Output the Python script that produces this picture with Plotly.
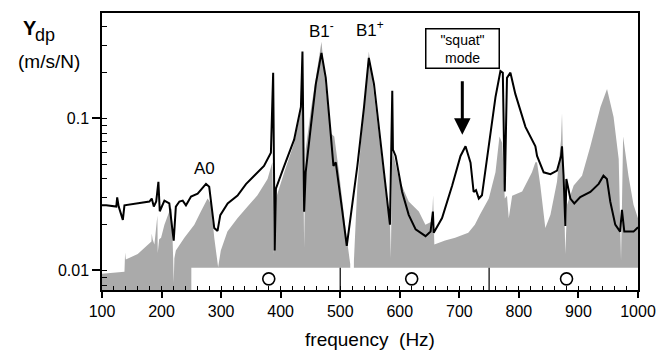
import math
import plotly.graph_objects as go

# ---------------- data ----------------
ydp_freq = [100, 107, 124, 125.5, 128, 135, 137.7, 160, 179.6, 183.5, 187, 191, 194.7, 197, 204.8, 213,
            220.4, 224, 230, 235.5, 241, 249.5, 260.6, 274.6, 280, 288.5, 294, 298.6, 311, 327.6, 341.7,
            355.6, 372, 383.6, 387.4, 390, 392, 406, 422.6, 434, 436.6, 439.4, 442, 450.6, 459, 468.5,
            475.7, 483, 488.6, 492.5, 495, 503.6, 511, 517.6, 528.8, 540, 548, 556.7, 568, 579, 583.5,
            587.4, 588.5, 593, 604, 615, 626.6, 643.3, 651.7, 655.6, 657, 671, 688, 702, 710.4, 718.8,
            724, 728, 732.7, 738, 749.5, 760.7, 769, 773, 776.3, 780, 785.8, 794, 811, 827.7, 830.5,
            841.6, 853, 864, 870.8, 872.4, 875, 878, 879.7, 886.4, 893, 903, 920, 934, 942, 947.8, 953.4,
            961.8, 970, 973, 977, 992.5, 1000]
ydp_vals = [0.0268, 0.0268, 0.0263, 0.0302, 0.0263, 0.0215, 0.0268, 0.0276, 0.0284, 0.0297, 0.0263, 0.0284,
            0.0383, 0.0245, 0.0288, 0.0276, 0.0157, 0.0263, 0.0284, 0.0288, 0.0268, 0.0306, 0.0320, 0.0371,
            0.0355, 0.0190, 0.0182, 0.0231, 0.0276, 0.0311, 0.0370, 0.042, 0.0487, 0.0595, 0.200, 0.0135,
            0.0345, 0.0487, 0.0725, 0.119, 0.276, 0.0243, 0.0443, 0.088, 0.168, 0.27, 0.185, 0.088, 0.0487,
            0.0514, 0.044, 0.0244, 0.0145, 0.0221, 0.0487, 0.119, 0.25, 0.168, 0.069, 0.027, 0.020, 0.152,
            0.0624, 0.0566, 0.0328, 0.0232, 0.0186, 0.0168, 0.018, 0.0244, 0.0177, 0.0221, 0.0362, 0.0566,
            0.0656, 0.0512, 0.0328, 0.0337, 0.0297, 0.0312, 0.069, 0.138, 0.205, 0.20, 0.033, 0.185, 0.20,
            0.145, 0.088, 0.0656, 0.0566, 0.0442, 0.043, 0.0453, 0.0566, 0.0656, 0.042, 0.0196, 0.040,
            0.0297, 0.0276, 0.0304, 0.0328, 0.0371, 0.042, 0.040, 0.0284, 0.020, 0.018, 0.025, 0.018, 0.018,
            0.0192]

gray_freq = [100, 137.7, 138.8, 140, 160, 177, 183, 183.5, 185, 188, 191, 193, 193.6, 196, 199.2, 204.8, 213,
             217, 219.5, 220.4, 221.5, 224, 238.3, 255, 266, 277.3, 283, 288.5, 295, 299.5, 310.6, 327.4,
             347, 361, 378, 386, 387.5, 388.5, 390, 392, 406, 422.6, 434, 436.6, 438, 439.4, 441, 442, 450.6,
             462, 468.5, 475.7, 484, 490, 498, 509.5, 516.8, 517.5, 522.5, 523, 528.8, 537, 548, 556.7, 568,
             579, 583.5, 585, 587.4, 598.6, 615, 632, 643, 654, 656, 658, 676, 693, 715, 726, 734.5, 749.5,
             760.7, 767.4, 772, 776.3, 780, 783, 788.7, 805.5, 822, 827.7, 830.5, 836, 844.4, 853, 864,
             870.8, 872.4, 875, 878, 881, 892, 906, 920, 937, 948, 959, 967.6, 971.5, 975, 984, 992.5, 1000]
gray_vals = [0.0095, 0.0098, 0.0131, 0.0118, 0.0128, 0.0148, 0.0155, 0.0175, 0.0160, 0.0148, 0.0200, 0.023,
             0.013, 0.016, 0.0164, 0.0200, 0.0244, 0.0256, 0.012, 0.0082, 0.012, 0.0135, 0.0164, 0.0200,
             0.0244, 0.0297, 0.0276, 0.0164, 0.0105, 0.0135, 0.018, 0.022, 0.027, 0.0312, 0.040, 0.0514,
             0.02, 0.0128, 0.02, 0.0297, 0.0443, 0.069, 0.113, 0.131, 0.05, 0.0141, 0.04, 0.0624, 0.113,
             0.215, 0.32, 0.16, 0.08, 0.076, 0.0443, 0.018, 0.011, 0.006, 0.006, 0.0116, 0.0362, 0.088,
             0.276, 0.145, 0.0595, 0.027, 0.022, 0.012, 0.0624, 0.040, 0.0284, 0.0244, 0.020, 0.021, 0.0312,
             0.0148, 0.0157, 0.0164, 0.0177, 0.020, 0.0232, 0.0297, 0.0443, 0.076, 0.069, 0.0297, 0.031,
             0.022, 0.031, 0.033, 0.0443, 0.0514, 0.0514, 0.0362, 0.019, 0.0232, 0.0383, 0.0725, 0.108,
             0.040, 0.0128, 0.027, 0.0362, 0.042, 0.0656, 0.119, 0.156, 0.102, 0.054, 0.0116, 0.076, 0.042,
             0.027, 0.022]

band_edges = [250, 500, 750, 1000]
circle_freqs = [380, 620, 880]

x_major = list(range(100, 1001, 100))
x_minor = list(range(100, 1001, 20))
y_major = [0.01, 0.1]
y_major_text = ["0.01", "0.1"]
y_minor = [0.008, 0.009, 0.01, 0.02, 0.03, 0.04, 0.05, 0.06, 0.07, 0.08, 0.09, 0.1, 0.2, 0.3, 0.4]

# ---------------- style constants ----------------
FONT = "Liberation Sans, Arial, Helvetica, sans-serif"
GRAY = "#aaaaaa"
Y_LO, Y_HI = 0.00743, 0.494
BOX_TOP = 0.0104
BOX_BOTTOM = 0.004
CIRCLE_Y = 0.0088

fig = go.Figure()

# baseline for gray fill
fig.add_trace(go.Scatter(x=[100, 1000], y=[0.004, 0.004], mode="lines",
                         line=dict(width=0, color=GRAY), hoverinfo="skip", showlegend=False))
fig.add_trace(go.Scatter(x=gray_freq, y=gray_vals, mode="lines", fill="tonexty",
                         fillcolor=GRAY, line=dict(width=0, color=GRAY), showlegend=False))

# white band box
b0, b1 = band_edges[0], band_edges[-1]
fig.add_trace(go.Scatter(x=[b0, b1, b1, b0, b0], y=[BOX_BOTTOM, BOX_BOTTOM, BOX_TOP, BOX_TOP, BOX_BOTTOM],
                         mode="lines", fill="toself", fillcolor="white", line=dict(width=0, color="white"),
                         hoverinfo="skip", showlegend=False))
for e in band_edges[1:-1]:
    fig.add_trace(go.Scatter(x=[e, e], y=[BOX_BOTTOM, BOX_TOP], mode="lines",
                             line=dict(width=1.2, color="black"), hoverinfo="skip", showlegend=False))

# black curve
fig.add_trace(go.Scatter(x=ydp_freq, y=ydp_vals, mode="lines",
                         line=dict(width=2, color="black"), showlegend=False))

# circles
fig.add_trace(go.Scatter(x=circle_freqs, y=[CIRCLE_Y] * len(circle_freqs), mode="markers",
                         marker=dict(symbol="circle-open", size=12, color="black", line=dict(width=1.6, color="black")),
                         showlegend=False))

# dummy trace for overlay axes
fig.add_trace(go.Scatter(x=[500], y=[0.1], xaxis="x2", yaxis="y2", mode="markers",
                         marker=dict(opacity=0), hoverinfo="skip", showlegend=False))

yr = [math.log10(Y_LO), math.log10(Y_HI)]

fig.update_layout(
    width=667, height=358,
    margin=dict(l=102, r=27, t=11, b=65),
    paper_bgcolor="white", plot_bgcolor="white",
    font=dict(family=FONT, color="black"),
    xaxis=dict(range=[100, 1000], tickvals=x_major, ticks="outside", ticklen=6, tickwidth=1.5,
               tickcolor="black", showline=True, linecolor="black", linewidth=1.5, mirror=True,
               showgrid=False, zeroline=False, tickfont=dict(size=16, family=FONT),
               title=dict(text="frequency\u00a0\u00a0(Hz)", font=dict(size=19, family=FONT), standoff=14)),
    yaxis=dict(type="log", range=yr, tickvals=y_major, ticktext=y_major_text, ticks="outside",
               ticklen=8, tickwidth=1.5, tickcolor="black", showline=True, linecolor="black",
               linewidth=1.5, mirror=True, showgrid=False, zeroline=False,
               tickfont=dict(size=16, family=FONT)),
    xaxis2=dict(range=[100, 1000], overlaying="x", anchor="y", side="bottom", tickvals=x_minor,
                ticks="inside", ticklen=4, tickwidth=1.3, tickcolor="black", showticklabels=False,
                showline=False, showgrid=False, zeroline=False),
    yaxis2=dict(type="log", range=yr, overlaying="y", anchor="x", side="left", tickvals=y_minor,
                ticks="inside", ticklen=5, tickwidth=1.3, tickcolor="black", showticklabels=False,
                showline=False, showgrid=False, zeroline=False),
)

def py2paper(py):
    return 1 - (py - 11) / (293 - 11)

def px2paper(px):
    return (px - 102) / (640 - 102)

ann = []
ann.append(dict(x=272.6, y=math.log10(0.0471), xref="x", yref="y", text="A0", showarrow=False,
                font=dict(size=17, family=FONT)))
ann.append(dict(x=468, y=math.log10(0.38), xref="x", yref="y", text="B1<sup>-</sup>", showarrow=False,
                font=dict(size=17, family=FONT)))
ann.append(dict(x=550, y=math.log10(0.39), xref="x", yref="y", text="B1<sup>+</sup>", showarrow=False,
                font=dict(size=17, family=FONT)))
ann.append(dict(x=705, y=math.log10(0.29), xref="x", yref="y", text="\"squat\"<br>mode", showarrow=False,
                font=dict(size=14, family=FONT), bordercolor="black", borderwidth=1.5, borderpad=2,
                bgcolor="white", width=68))
ann.append(dict(x=705, y=math.log10(0.078), xref="x", yref="y", text="", showarrow=True,
                ax=0, ay=-55, arrowhead=2, arrowsize=1.1, arrowwidth=3, arrowcolor="black"))
# y axis label
ann.append(dict(x=px2paper(21), y=py2paper(26), xref="paper", yref="paper", text="<b>Y</b>",
                xanchor="left", yanchor="middle", showarrow=False, font=dict(size=20, family=FONT)))
ann.append(dict(x=px2paper(33), y=py2paper(33), xref="paper", yref="paper", text="dp",
                xanchor="left", yanchor="middle", showarrow=False, font=dict(size=18, family=FONT)))
ann.append(dict(x=px2paper(48.5), y=py2paper(60), xref="paper", yref="paper", text="(m/s/N)",
                xanchor="center", yanchor="middle", showarrow=False, font=dict(size=19, family=FONT)))
fig.update_layout(annotations=ann)

fig.write_html("out.html")
